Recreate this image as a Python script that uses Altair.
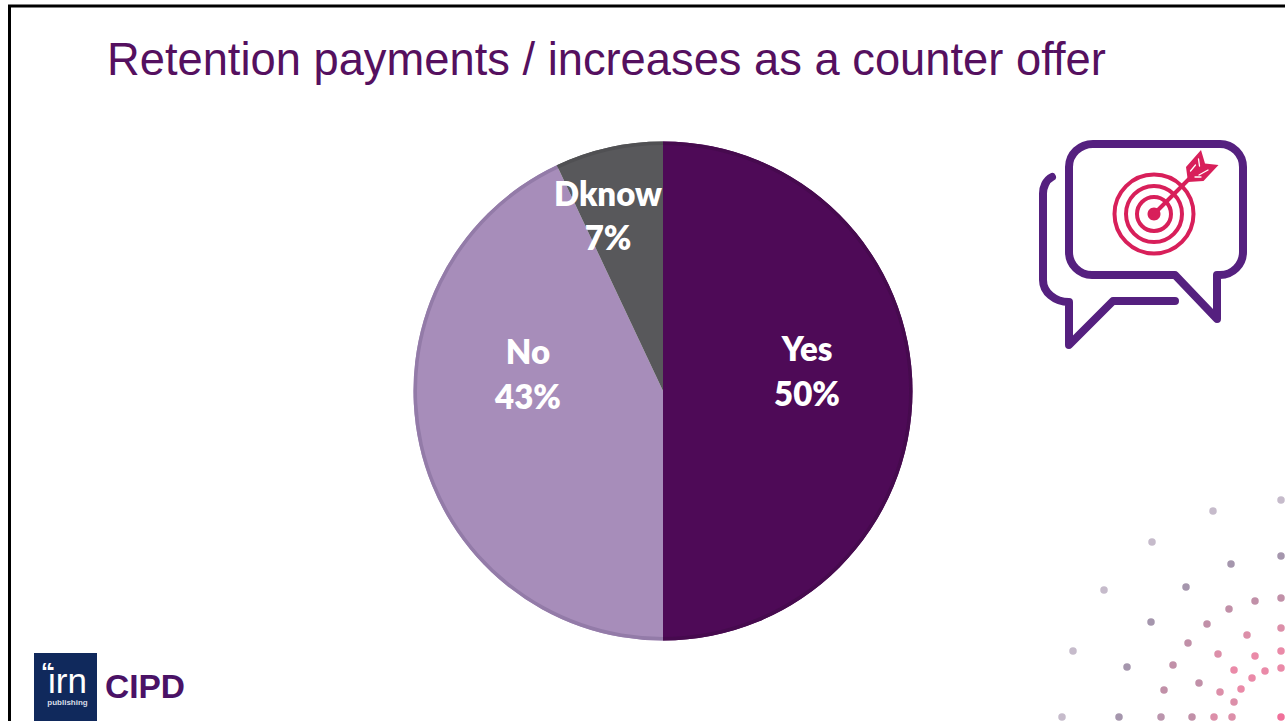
import altair as alt
import pandas as pd

# Survey answers
categories = ["Yes", "No", "Dknow"]
shares = [50, 43, 7]
slice_colors = ["#4e0a57", "#a78dba", "#58585b"]
rim_colors = ["#460a4e", "#937ba8", "#505053"]

title_text = "Retention payments / increases as a counter offer"

# Scatter of decorative dots in the lower right corner
dot_light = "#c6bbcb"
dot_grey = "#a596ad"
dot_mauve = "#c190a8"
dot_rose = "#dc8fa9"
dot_pink = "#ea8aa8"
dot_x = [1281, 1213, 1152, 1231, 1281, 1104, 1186, 1255, 1281, 1229, 1151, 1207, 1247, 1281,
         1073, 1188, 1218, 1255, 1281, 1127, 1173, 1234, 1265, 1281, 1252, 1199, 1164, 1241,
         1220, 1234, 1062, 1119, 1161, 1192, 1214, 1232, 1281]
dot_y = [500, 511, 542, 564, 556, 590, 587, 601, 598, 609, 622, 624, 635, 628,
         651, 643, 654, 656, 651, 667, 665, 670, 671, 668, 678, 683, 690, 689,
         692, 702, 717, 717, 717, 717, 717, 717, 717]
dot_color = [dot_light, dot_light, dot_light, dot_grey, dot_grey, dot_light, dot_grey, dot_mauve, dot_mauve, dot_mauve,
             dot_grey, dot_mauve, dot_rose, dot_rose, dot_light, dot_mauve, dot_rose, dot_pink, dot_pink, dot_grey,
             dot_mauve, dot_pink, dot_pink, dot_pink, dot_pink, dot_mauve, dot_mauve, dot_pink, dot_rose, dot_rose,
             dot_light, dot_grey, "#bb95ad", dot_mauve, dot_rose, dot_rose, "#f0709a"]

PURPLE = "#55105f"
ICON_PURPLE = "#55207f"
ICON_RED = "#d81f5a"
NAVY = "#10295c"

pie_data = pd.DataFrame({
    "category": categories,
    "share": shares,
    "order": range(len(categories)),
    "color": slice_colors,
    "rim": rim_colors,
})
pie_data["label"] = pie_data["share"].astype(str) + "%"

CX, CY, R = 663, 391, 249.5
theta = alt.Theta("share:Q", stack=True, scale=alt.Scale(domain=[0, sum(shares)]))
order = alt.Order("order:Q")

pie = alt.Chart(pie_data).mark_arc(radius=R).encode(
    x=alt.value(CX), y=alt.value(CY), theta=theta, order=order,
    color=alt.Color("color:N", scale=None),
)
rim = alt.Chart(pie_data).mark_arc(radius=R, radius2=R - 3.5).encode(
    x=alt.value(CX), y=alt.value(CY), theta=theta, order=order,
    color=alt.Color("rim:N", scale=None),
)


def slice_labels(category, px, py_name, py_value):
    one = pie_data[pie_data["category"] == category]
    style = dict(font="Lato", fontWeight=800, fontSize=33, color="white", align="center", baseline="middle")
    return [
        alt.Chart(one).mark_text(**style).encode(x=alt.value(px), y=alt.value(py_name), text="category:N"),
        alt.Chart(one).mark_text(**style).encode(x=alt.value(px), y=alt.value(py_value), text="label:N"),
    ]


def text_at(text, px, py, align="left", **style):
    return alt.Chart(pd.DataFrame({"t": [text]})).mark_text(baseline="alphabetic", align=align, **style).encode(
        x=alt.value(px), y=alt.value(py), text="t:N")


def stroked(path, color, width):
    # A symbol of size 4 draws its path at one unit per pixel
    return alt.Chart(pd.DataFrame({"s": [0]})).mark_point(
        shape=path, size=4, filled=False, stroke=color, strokeWidth=width, opacity=1,
        strokeCap="round", strokeJoin="round",
    ).encode(x=alt.value(0), y=alt.value(0))


def filled(path, color):
    return alt.Chart(pd.DataFrame({"s": [0]})).mark_point(
        shape=path, size=4, filled=True, fill=color, opacity=1,
    ).encode(x=alt.value(0), y=alt.value(0))


def circle_path(cx, cy, r):
    return f"M{cx - r} {cy}A{r} {r} 0 1 1 {cx + r} {cy}A{r} {r} 0 1 1 {cx - r} {cy}Z"


front_bubble = ("M1093 144H1220A23 23 0 0 1 1243 167V252A23 23 0 0 1 1220 275H1217V319"
                "L1175 275H1092A23 23 0 0 1 1069 252V167A24 23 0 0 1 1093 144Z")
back_bubble = "M1052 177A14 18 0 0 0 1043 195V280A26 22 0 0 0 1069 302V345L1113 301H1175"
fletching = "M1186 167L1201 150L1205 163.5L1218.5 165L1203.5 181L1188 182Z"

icon = [
    stroked(front_bubble, ICON_PURPLE, 8),
    stroked(back_bubble, ICON_PURPLE, 8),
    stroked(circle_path(1154, 214, 39.5), ICON_RED, 4),
    stroked(circle_path(1154, 214, 28), ICON_RED, 4),
    stroked(circle_path(1154, 214, 17), ICON_RED, 4),
    filled(circle_path(1154, 214, 6.5), ICON_RED),
    stroked("M1154 214L1190 178", ICON_RED, 4),
    filled(fletching, ICON_RED),
    stroked("M1190.5 171L1195.5 165M1198.5 159L1199.5 166M1199 175L1208 170M1195 177L1201 177", "white", 1.3),
]

frame = [
    alt.Chart(pd.DataFrame({"s": [0]})).mark_rule(color="black", strokeWidth=3).encode(
        x=alt.value(8), x2=alt.value(1285), y=alt.value(6)),
    alt.Chart(pd.DataFrame({"s": [0]})).mark_rule(color="black", strokeWidth=3).encode(
        x=alt.value(9.5), y=alt.value(5), y2=alt.value(721)),
]

logo_box = alt.Chart(pd.DataFrame({"s": [0]})).mark_rect(color=NAVY).encode(
    x=alt.value(34), x2=alt.value(97), y=alt.value(653), y2=alt.value(721))

logo = [
    logo_box,
    text_at("“", 41, 680, font="Liberation Sans", fontWeight="bold", fontSize=24, color="white"),
    text_at("irn", 67.5, 693, align="center", font="Liberation Sans", fontSize=35, color="white"),
    text_at("publishing", 67.5, 705, align="center", font="Liberation Sans", fontWeight="bold", fontSize=8, color="#d8dde8"),
    text_at("CIPD", 105, 698, font="Liberation Sans", fontWeight="bold", fontSize=33.5, color="#4a1266"),
]

dots = alt.Chart(pd.DataFrame({"x": dot_x, "y": dot_y, "c": dot_color})).mark_circle(size=56, opacity=1).encode(
    x=alt.X("x:Q", scale=alt.Scale(domain=[0, 1285], range=[0, 1285]), axis=None),
    y=alt.Y("y:Q", scale=alt.Scale(domain=[0, 721], range=[0, 721]), axis=None),
    color=alt.Color("c:N", scale=None),
)

title = text_at(title_text, 107, 75, font="Liberation Sans", fontSize=45.3, color=PURPLE)

layers = [*frame, title, pie, rim,
          *slice_labels("Yes", 807, 351, 396),
          *slice_labels("No", 528, 354, 399),
          *slice_labels("Dknow", 608, 196, 240),
          *icon, dots, *logo]

chart = alt.layer(*layers).resolve_scale(color="independent").properties(
    width=1285, height=721, padding=0, autosize=alt.AutoSizeParams(type="none"),
    background="white",
).configure_view(stroke=None)

chart.save("out.html", embed_options={"renderer": "svg", "actions": False})
